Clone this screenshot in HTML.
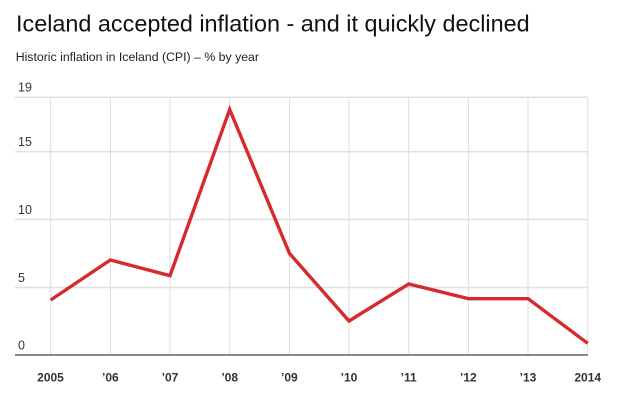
<!DOCTYPE html>
<html>
<head>
<meta charset="utf-8">
<style>
html,body{margin:0;padding:0;background:#fff;}
body{width:620px;height:403px;overflow:hidden;}
svg{display:block;}
</style>
</head>
<body>
<svg width="620" height="403" viewBox="0 0 620 403" xmlns="http://www.w3.org/2000/svg">
  <text x="16" y="31.7" font-family="Liberation Sans, Arial, sans-serif" font-size="23.4" fill="#111">Iceland accepted inflation - and it quickly declined</text>
  <text x="15.7" y="61" font-family="Liberation Sans, Arial, sans-serif" font-size="12.3" fill="#222">Historic inflation in Iceland (CPI) – % by year</text>

  <!-- vertical gridlines -->
  <g stroke="#dedede" stroke-width="1">
    <line x1="50.7" y1="97.3" x2="50.7" y2="355"/>
    <line x1="110.4" y1="97.3" x2="110.4" y2="355"/>
    <line x1="170.0" y1="97.3" x2="170.0" y2="355"/>
    <line x1="229.7" y1="97.3" x2="229.7" y2="355"/>
    <line x1="289.4" y1="97.3" x2="289.4" y2="355"/>
    <line x1="349.0" y1="97.3" x2="349.0" y2="355"/>
    <line x1="408.7" y1="97.3" x2="408.7" y2="355"/>
    <line x1="468.4" y1="97.3" x2="468.4" y2="355"/>
    <line x1="528.0" y1="97.3" x2="528.0" y2="355"/>
    <line x1="587.7" y1="97.3" x2="587.7" y2="355"/>
  </g>
  <!-- horizontal gridlines -->
  <g stroke="#e0e0e0" stroke-width="1.5">
    <line x1="15" y1="97.3" x2="588" y2="97.3"/>
    <line x1="15" y1="151.7" x2="588" y2="151.7"/>
    <line x1="15" y1="219.5" x2="588" y2="219.5"/>
    <line x1="15" y1="287.5" x2="588" y2="287.5"/>
  </g>
  <line x1="15" y1="355" x2="588" y2="355" stroke="#444" stroke-width="1.3"/>

  <!-- y labels -->
  <g font-family="Liberation Sans, Arial, sans-serif" font-size="12.5" fill="#333">
    <text x="18" y="91.7">19</text>
    <text x="18" y="146">15</text>
    <text x="18" y="214">10</text>
    <text x="18" y="282">5</text>
    <text x="18" y="349.4">0</text>
  </g>

  <!-- x labels -->
  <g font-family="Liberation Sans, Arial, sans-serif" font-size="12" font-weight="bold" fill="#333" text-anchor="middle">
    <text x="50.5" y="381.7">2005</text>
    <text x="110.4" y="381.7">’06</text>
    <text x="170.0" y="381.7">’07</text>
    <text x="229.7" y="381.7">’08</text>
    <text x="289.4" y="381.7">’09</text>
    <text x="349.0" y="381.7">’10</text>
    <text x="408.7" y="381.7">’11</text>
    <text x="468.4" y="381.7">’12</text>
    <text x="528.0" y="381.7">’13</text>
    <text x="587.7" y="381.7">2014</text>
  </g>

  <!-- series -->
  <polyline fill="none" stroke="#d62b2e" stroke-width="3.4" stroke-linejoin="miter" stroke-miterlimit="10"
    points="50.7,300 110.4,260 170.0,275.7 229.7,109.5 289.4,253.3 349.0,321 408.7,284 468.4,298.7 528.0,298.7 587.7,343.3"/>
</svg>
</body>
</html>
